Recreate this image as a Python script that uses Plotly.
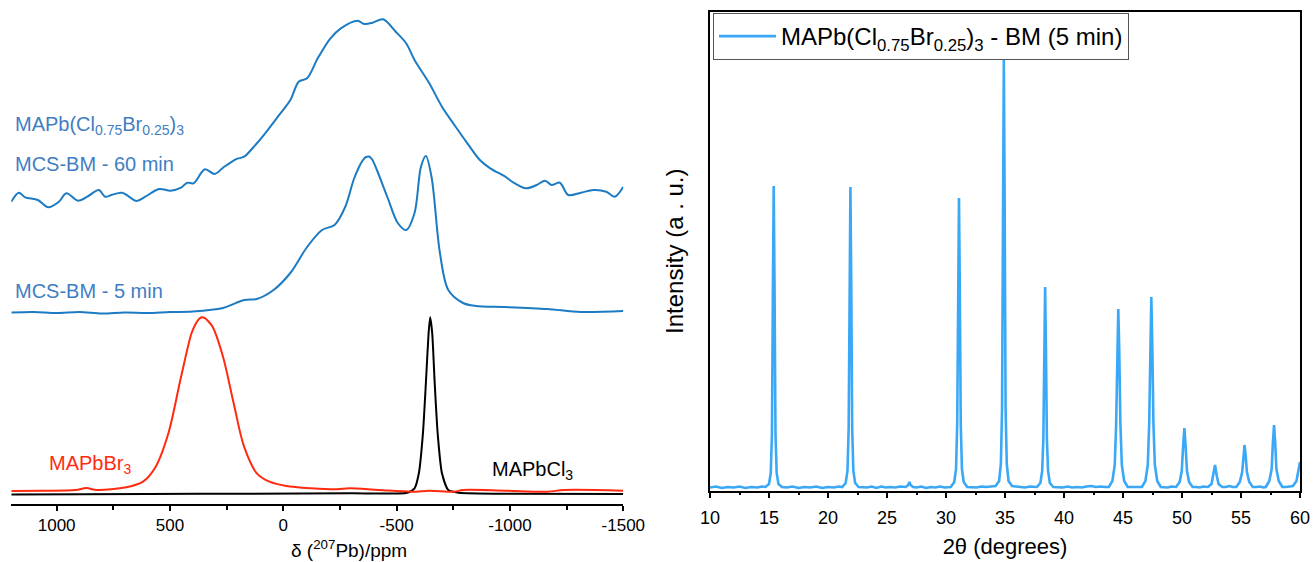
import plotly.graph_objects as go

# ---------------- Left panel: 207Pb NMR spectra (ppm, intensity a.u.) ----------------
nmr_60min_ppm = [1200, 1167, 1139, 1083, 1037, 990, 957, 906, 860, 814, 786, 758, 711, 647, 609,
                 548, 498, 451, 424, 396, 346, 303, 266, 210, 173, 136, 80, 24, -31, -68,
                 -105, -152, -208, -254, -328, -357, -394, -440, -496, -542, -579, -644, -700, -755, -812,
                 -867, -913, -979, -1016, -1071, -1118, -1155, -1183, -1220, -1257, -1313, -1368, -1425, -1462, -1500]
nmr_60min_int = [-3.7, 5.3, 0.7, -2, -9.3, -3.7, 4.7, -2.7, 2, 8, 1.3, 3, 5.3, -3, 1.3,
                 9, 7.3, 10.3, 15.3, 14.7, 28.7, 24, 30.3, 38.7, 41.3, 49.7, 64.7, 81.3, 98, 116.3,
                 119.7, 139.7, 159.7, 169.7, 177.3, 174, 175.3, 178.7, 166.3, 154.7, 138, 114.7, 91.3, 73, 54.7,
                 38, 29.7, 21.3, 15.3, 9.7, 13, 17.3, 13, 15.3, 3, 5.3, 8, 6.3, 1.3, 11.3]

nmr_5min_ppm = [1200, 1100, 1000, 900, 800, 700, 600, 500, 400, 266, 173, 117, 43, -31, -105,
                -171, -226, -273, -310, -333, -350, -365, -378, -392, -412, -459, -505, -542, -579, -607,
                -629, -654, -691, -728, -793, -849, -979, -1164, -1313, -1500]
nmr_5min_int = [0, 0.5, -0.5, 0.5, -1, 0, -0.5, 0.5, 1, 4.5, 12.5, 13.5, 22.5, 39.5, 65.5,
                82.5, 87.5, 105.5, 132.5, 145, 152, 155.5, 156, 153, 143, 115.5, 89.5, 82.5, 99.5, 145.5,
                156.5, 135.5, 59.5, 22.5, 9.5, 6.5, 5.5, 3.5, 0.5, 1.5]

nmr_br_ppm = [1200, 1064, 916, 869, 823, 693, 619, 563, 507, 451, 405, 388, 372, 359, 346,
              330, 312, 266, 219, 173, 117, 61, -13, -124, -236, -291, -421, -570, -644, -755,
              -793, -979, -1164, -1239, -1500]
nmr_br_int = [-0.5, -0.2, 0.5, 2.5, 0.5, 3.2, 8.8, 23.8, 57.2, 113.8, 157.2, 166, 171.5, 173.2, 172.3,
              169, 163.8, 133.8, 87.2, 43.8, 17.2, 8.8, 4.5, 2.2, 1.2, 2.2, 0.5, -1.2, -0.2, -1.2,
              0.5, -0.2, -1.2, 0.5, -0.2]

nmr_cl_ppm = [1200, 600, 129, -300, -546, -579, -598, -616, -629, -641, -648, -657, -668, -681, -700,
              -728, -774, -1000, -1500]
nmr_cl_int = [-0.2, 0.3, 0.6, 1.0, 1.6, 6, 21, 61, 111, 161, 177, 161, 111, 61, 21,
              4.3, 1.6, 0.5, 0.3]

nmr_ticks = [1000, 500, 0, -500, -1000, -1500]
nmr_tick_labels = ["1000", "500", "0", "-500", "-1000", "-1500"]

# ---------------- Right panel: XRD pattern (2theta, intensity a.u.) ----------------
xrd_two_theta = [
    10.0, 10.5, 11.0, 11.5, 12.0, 12.5, 13.0, 13.5, 14.0, 14.4,
    14.7, 15.0, 15.15, 15.25, 15.33, 15.4, 15.47, 15.55, 15.65, 15.8, 16.1,
    16.5, 17.0, 17.5, 18.0, 18.5, 19.0, 19.5, 20.0, 20.5, 20.9,
    21.2, 21.5, 21.65, 21.75, 21.83, 21.9, 21.97, 22.05, 22.15, 22.3, 22.6,
    22.9, 23.3, 23.7, 24.1, 24.5, 24.9, 25.3, 25.7, 26.1,
    26.6, 26.8, 26.9, 27.0, 27.2,
    27.5, 27.9, 28.3, 28.7, 29.1, 29.5, 29.9,
    30.4, 30.7, 30.85, 30.95, 31.03, 31.1, 31.17, 31.25, 31.35, 31.5, 31.8,
    32.2, 32.6, 33.0, 33.4, 33.8,
    34.2, 34.5, 34.65, 34.75, 34.83, 34.9, 34.97, 35.05, 35.15, 35.3, 35.6,
    35.9, 36.3, 36.7, 37.1, 37.4,
    37.7, 38.0, 38.15, 38.25, 38.33, 38.4, 38.47, 38.55, 38.65, 38.8, 39.1,
    39.5, 39.9, 40.3, 40.7, 41.1, 41.5, 41.9, 42.3, 42.7, 43.1, 43.5,
    43.8, 44.1, 44.3, 44.42, 44.52, 44.6, 44.68, 44.78, 44.9, 45.1, 45.4,
    45.7, 46.0, 46.3,
    46.6, 46.9, 47.1, 47.22, 47.32, 47.4, 47.48, 47.58, 47.7, 47.9, 48.2,
    48.5, 48.8, 49.1,
    49.5, 49.8, 49.98, 50.1, 50.2, 50.3, 50.42, 50.6, 50.9,
    51.2, 51.5, 51.8,
    52.2, 52.5, 52.65, 52.8, 52.95, 53.1, 53.4,
    53.7, 54.0, 54.3,
    54.6, 54.9, 55.1, 55.2, 55.3, 55.4, 55.5, 55.7, 56.0,
    56.3, 56.6, 56.9,
    57.1, 57.4, 57.6, 57.7, 57.8, 57.9, 58.0, 58.2, 58.5,
    58.8, 59.1, 59.4, 59.7, 59.85, 60.0,
]
xrd_intensity = [
    1.5, 2.5, 1, 2, 1.5, 2.5, 1, 2, 1.5, 2.5,
    2, 5, 16, 55, 200, 303, 200, 55, 16, 5, 2,
    1.5, 2.5, 1, 2, 1.5, 2.5, 1, 2, 1.5, 2.5,
    2, 6, 18, 60, 205, 302, 205, 60, 18, 6, 2,
    2, 1.5, 2.5, 1, 2.5, 1.5, 2, 1.5, 2.5,
    2, 4, 7, 4, 2,
    1.5, 2.5, 1, 2, 1.5, 2.5, 1.5,
    2, 7, 20, 65, 200, 291, 200, 65, 20, 7, 2,
    2, 1.5, 2.5, 2, 2.5,
    3, 8, 25, 80, 290, 429, 290, 80, 25, 8, 3,
    2.5, 2, 1.5, 2.5, 2,
    2, 6, 18, 50, 140, 202, 140, 50, 18, 6, 2,
    2, 1.5, 2.5, 1.5, 2, 1.5, 2.5, 3, 2, 2.5, 2,
    2, 8, 24, 65, 140, 180, 140, 65, 24, 8, 2,
    2, 2.5, 2,
    2, 8, 24, 65, 145, 192, 145, 65, 24, 8, 2,
    2, 1.5, 2.5,
    2, 7, 18, 44, 61, 44, 18, 7, 2,
    2, 1.5, 2.5,
    2, 5, 13, 24, 13, 5, 2,
    2, 3, 2,
    2, 7, 17, 33, 44, 33, 17, 7, 2,
    2, 2.5, 1.5,
    2, 8, 20, 46, 64, 46, 20, 8, 2,
    2, 2.5, 3, 8, 16, 27,
]

# ---------------- styling ----------------
W, H = 1314, 562
FONT = "Arial, Liberation Sans, sans-serif"
BLUE_LINE = "#1c7bc3"
BLUE_TEXT = "#3f7ec2"
RED = "#ff2a10"
XRD_BLUE = "#3aa8f6"

# vertical stacking offsets for the NMR spectra (left-axis units)
OFF_CL, OFF_BR, OFF_5, OFF_60 = 9.7, 13.5, 191.5, 306.0


def px_x(p):
    return p / W


def px_y(p):
    return 1 - p / H


fig = go.Figure()

nmr_line = dict(shape="spline", smoothing=0.9, width=2)
fig.add_trace(go.Scatter(x=nmr_cl_ppm, y=[v + OFF_CL for v in nmr_cl_int], mode="lines",
                         line=dict(color="black", shape="spline", smoothing=0.6, width=2),
                         xaxis="x", yaxis="y", showlegend=False))
fig.add_trace(go.Scatter(x=nmr_br_ppm, y=[v + OFF_BR for v in nmr_br_int], mode="lines",
                         line=dict(color=RED, **nmr_line), xaxis="x", yaxis="y", showlegend=False))
fig.add_trace(go.Scatter(x=nmr_5min_ppm, y=[v + OFF_5 for v in nmr_5min_int], mode="lines",
                         line=dict(color=BLUE_LINE, **nmr_line), xaxis="x", yaxis="y", showlegend=False))
fig.add_trace(go.Scatter(x=nmr_60min_ppm, y=[v + OFF_60 for v in nmr_60min_int], mode="lines",
                         line=dict(color=BLUE_LINE, **nmr_line), xaxis="x", yaxis="y", showlegend=False))

fig.add_trace(go.Scatter(x=xrd_two_theta, y=xrd_intensity, mode="lines",
                         line=dict(color=XRD_BLUE, width=2.6),
                         name="MAPb(Cl<sub>0.75</sub>Br<sub>0.25</sub>)<sub>3</sub> - BM (5 min)",
                         xaxis="x2", yaxis="y2", showlegend=True))

annotations = [
    dict(text="MAPb(Cl<sub>0.75</sub>Br<sub>0.25</sub>)<sub>3</sub>", x=px_x(13), y=px_y(125),
         font=dict(size=20, color=BLUE_TEXT)),
    dict(text="MCS-BM - 60 min", x=px_x(13), y=px_y(164), font=dict(size=20, color=BLUE_TEXT)),
    dict(text="MCS-BM - 5 min", x=px_x(13), y=px_y(291), font=dict(size=20, color=BLUE_TEXT)),
    dict(text="MAPbBr<sub>3</sub>", x=px_x(47), y=px_y(465), font=dict(size=20, color=RED)),
    dict(text="MAPbCl<sub>3</sub>", x=px_x(490), y=px_y(470), font=dict(size=20, color="black")),
    dict(text="δ (<sup>207</sup>Pb)/ppm", x=px_x(349), y=px_y(549), xanchor="center",
         font=dict(size=19, color="black")),
]
for a in annotations:
    a.setdefault("xanchor", "left")
    a.update(xref="paper", yref="paper", yanchor="middle", showarrow=False,
             font=dict(family=FONT, **a["font"]))

fig.update_layout(
    width=W, height=H,
    margin=dict(l=0, r=0, t=0, b=0, autoexpand=False),
    paper_bgcolor="white", plot_bgcolor="white",
    font=dict(family=FONT, color="black"),
    annotations=annotations,
    xaxis=dict(domain=[px_x(11.3), px_x(623.3)], range=[1200, -1500], anchor="y", automargin=False,
               showline=True, linecolor="black", linewidth=2, showgrid=False, zeroline=False,
               tickmode="array", tickvals=nmr_ticks, ticktext=nmr_tick_labels,
               ticks="outside", ticklen=5, tickwidth=1.5,
               tickcolor="black", tickfont=dict(size=17, family=FONT, color="black"),
               minor=dict(tickmode="array", tickvals=[1250, 750, 250, -250, -750, -1250],
                          ticks="outside", ticklen=4, tickwidth=1.5, tickcolor="black")),
    yaxis=dict(domain=[1 - 504 / H, 1.0], range=[0, 504], visible=False, anchor="x", automargin=False),
    xaxis2=dict(domain=[px_x(710), px_x(1300)], range=[10, 60], anchor="y2", automargin=False,
                showline=True, mirror=True, linecolor="black", linewidth=1.5,
                showgrid=False, zeroline=False, dtick=5, tick0=10,
                ticks="outside", ticklen=6, tickwidth=1.5, tickcolor="black",
                ticklabelstandoff=4,
                tickfont=dict(size=18, family=FONT, color="black"),
                minor=dict(dtick=2.5, tick0=10, ticks="outside", ticklen=3, tickwidth=1.5, tickcolor="black"),
                title=dict(text="2θ (degrees)", font=dict(size=22, family=FONT, color="black"), standoff=12)),
    yaxis2=dict(domain=[1 - 490.7 / H, 1 - 11.7 / H], range=[-1.7, 477.3], anchor="x2", automargin=False,
                showline=True, mirror=True, linecolor="black", linewidth=1.5,
                showgrid=False, zeroline=False, showticklabels=False, ticks="",
                title=dict(text="Intensity (a . u.)", font=dict(size=24, family=FONT, color="black"), standoff=18)),
    legend=dict(x=px_x(713), y=px_y(13), xanchor="left", yanchor="top",
                bordercolor="#555555", borderwidth=1, bgcolor="rgba(255,255,255,0)",
                font=dict(size=24, family=FONT, color="black"), itemwidth=57,
                tracegroupgap=0),
)

fig.write_html("out.html")
